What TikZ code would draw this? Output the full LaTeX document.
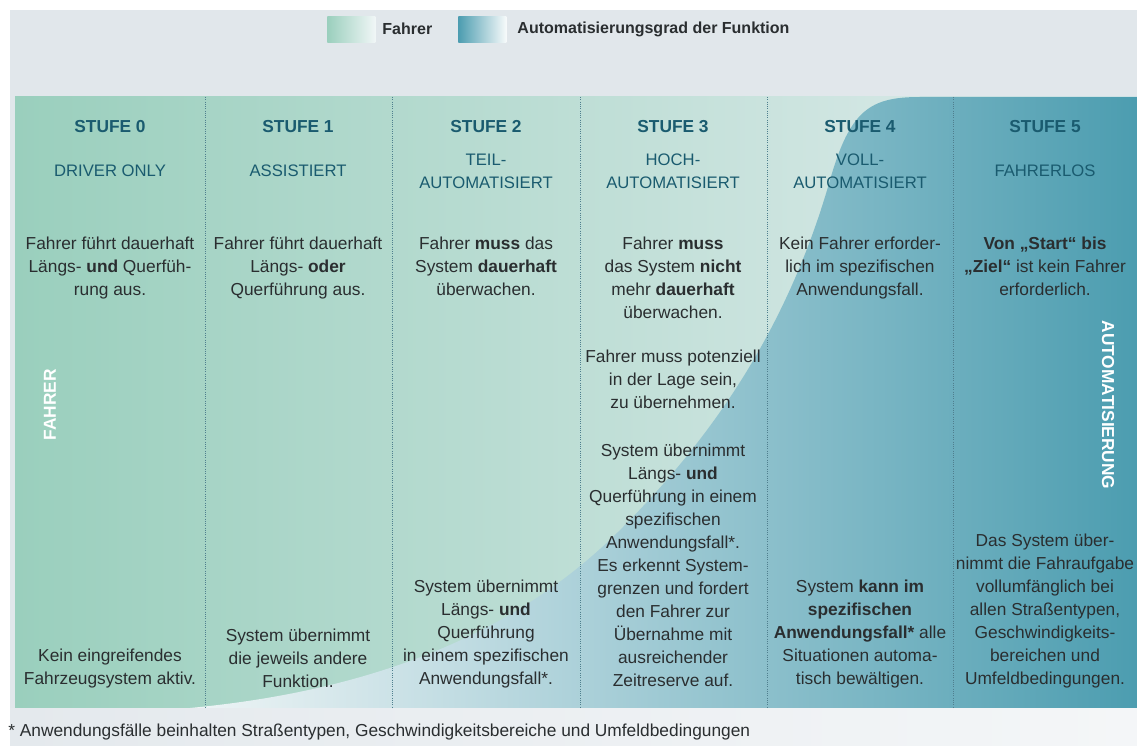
\documentclass[tikz,border=0pt]{standalone}
\usepackage{fontspec}
\setmainfont{Liberation Sans}
\usetikzlibrary{positioning}

\definecolor{bggray}{HTML}{E1E7EB}
\definecolor{footgray}{HTML}{E4E9ED}
\definecolor{drvgreen}{HTML}{9ACFBD}
\definecolor{drvlight}{HTML}{E2EDEE}
\definecolor{autolight}{HTML}{EFF5F6}
\definecolor{autoteal}{HTML}{4C9DB0}
\definecolor{headteal}{HTML}{1A5B6F}
\definecolor{bodygray}{HTML}{2A2E30}
\definecolor{dotline}{HTML}{4F7F8E}

\begin{document}
\begin{tikzpicture}[
    x=0.75pt, y=-0.75pt,
    stufe/.style={font=\bfseries\fontsize{13}{15}\selectfont, text=headteal, inner sep=0pt},
    levelname/.style={font=\fontsize{12.5}{17.25}\selectfont, text=headteal, align=center, inner sep=0pt},
    bodytext/.style={font=\fontsize{13}{17.25}\selectfont, text=bodygray, align=center, inner sep=0pt},
    sidelabel/.style={font=\bfseries\fontsize{13}{15}\selectfont, text=white, inner sep=0pt},
    legendbox/.style={minimum width=36pt, minimum height=19.5pt, inner sep=0pt, anchor=north west},
    legendtext/.style={font=\bfseries\fontsize{12}{14}\selectfont, text=bodygray, inner sep=0pt},
    divider/.style={dotline, densely dotted, line width=0.7pt},
    node distance=5pt
]
\useasboundingbox (0,0) rectangle (1137,745);

% background and panel
\fill[bggray] (10,10) rectangle (1137,745);
\shade[left color=drvgreen, right color=drvlight] (15,97) rectangle (1137,708);
% share of automation (S-curve)
\shade[left color=autolight, right color=autoteal]
    (190,708) .. controls (380,690) and (520,630) .. (620,530)
    .. controls (720,430) and (790,320) .. (830,180)
    .. controls (850,110) and (870,97) .. (920,97)
    -- (1137,97) -- (1137,708) -- cycle;
\shade[left color=footgray, right color=white!60!footgray] (10,708) rectangle (1137,745);

% column separators
\foreach \x in {205,392,580,767,953}
    \draw[divider] (\x,97) -- (\x,708);

% legend
\node[legendbox, left color=drvgreen, right color=drvlight!50!white] (leg_drv) at (327,16) {};
\node[legendtext, right=of leg_drv] (leg_drv_text) {Fahrer};
\node[legendbox, left color=autoteal, right color=autolight!50!white] (leg_auto) at (458,16) {};
\node[legendtext, right=8pt of leg_auto] (leg_auto_text) {Automatisierungsgrad der Funktion};

% level headings
\foreach \i/\cx/\name in {0/110/{DRIVER ONLY}, 1/298/ASSISTIERT, 2/486/{TEIL-\\AUTOMATISIERT},
        3/673/{HOCH-\\AUTOMATISIERT}, 4/860/{VOLL-\\AUTOMATISIERT}, 5/1045/FAHRERLOS} {
    \node[stufe] (stufe\i) at (\cx,127) {STUFE \i};
    \node[levelname] (level\i) at (\cx,171) {\name};
}

% role of the driver
\node[bodytext, anchor=north] (drv0) at (110,237) {Fahrer führt dauerhaft\\Längs- \textbf{und} Querfüh-\\rung aus.};
\node[bodytext, anchor=north] (drv1) at (298,237) {Fahrer führt dauerhaft\\Längs- \textbf{oder}\\Querführung aus.};
\node[bodytext, anchor=north] (drv2) at (486,237) {Fahrer \textbf{muss} das\\System \textbf{dauerhaft}\\überwachen.};
\node[bodytext, anchor=north] (drv3) at (673,237) {Fahrer \textbf{muss}\\das System \textbf{nicht}\\mehr \textbf{dauerhaft}\\überwachen.};
\node[bodytext, anchor=north] (pot3) at (673,350) {Fahrer muss potenziell\\in der Lage sein,\\zu übernehmen.};
\node[bodytext, anchor=north] (drv4) at (860,237) {Kein Fahrer erforder-\\lich im spezifischen\\Anwendungsfall.};
\node[bodytext, anchor=north] (drv5) at (1045,237) {\textbf{Von „Start“ bis}\\\textbf{„Ziel“} ist kein Fahrer\\erforderlich.};

% role of the system
\node[bodytext, anchor=south] (sys0) at (110,688) {Kein eingreifendes\\Fahrzeugsystem aktiv.};
\node[bodytext, anchor=south] (sys1) at (298,688) {System übernimmt\\die jeweils andere\\Funktion.};
\node[bodytext, anchor=south] (sys2) at (486,688) {System übernimmt\\Längs- \textbf{und}\\Querführung\\in einem spezifischen\\Anwendungsfall*.};
\node[bodytext, anchor=north] (sys3) at (673,444) {System übernimmt\\Längs- \textbf{und}\\Querführung in einem\\spezifischen\\Anwendungsfall*.\\Es erkennt System-\\grenzen und fordert\\den Fahrer zur\\Übernahme mit\\ausreichender\\Zeitreserve auf.};
\node[bodytext, anchor=south] (sys4) at (860,688) {System \textbf{kann im}\\\textbf{spezifischen}\\\textbf{Anwendungsfall*} alle\\Situationen automa-\\tisch bewältigen.};
\node[bodytext, anchor=south] (sys5) at (1045,688) {Das System über-\\nimmt die Fahraufgabe\\vollumfänglich bei\\allen Straßentypen,\\Geschwindigkeits-\\bereichen und\\Umfeldbedingungen.};

% side labels
\node[sidelabel, rotate=90] (fahrer_label) at (50,405) {FAHRER};
\node[sidelabel, rotate=-90] (auto_label) at (1108,405) {AUTOMATISIERUNG};

% footnote
\node[font=\fontsize{13}{15}\selectfont, text=bodygray, anchor=west, inner sep=0pt] (footnote) at (8,732)
    {* Anwendungsfälle beinhalten Straßentypen, Geschwindigkeitsbereiche und Umfeldbedingungen};

\end{tikzpicture}
\end{document}
